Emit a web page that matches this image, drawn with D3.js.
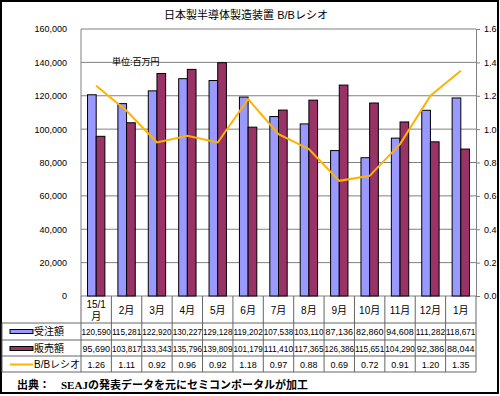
<!DOCTYPE html>
<html lang="ja">
<head>
<meta charset="utf-8">
<title>日本製半導体製造装置 B/Bレシオ</title>
<script src="https://d3js.org/d3.v7.min.js"></script>
<style>
  body { margin: 0; background: #fff; }
  text { font-family: "Liberation Sans", "Noto Sans CJK JP", sans-serif; fill: #000; }
</style>
</head>
<body>
<svg width="500" height="396"></svg>
<script>
var months = ["15/1月","2月","3月","4月","5月","6月","7月","8月","9月","10月","11月","12月","1月"];
var orders = [120590,115281,122920,130227,129128,119202,107538,103110,87136,82860,94608,111282,118671];
var sales = [95690,103817,133343,135796,139809,101179,111410,117365,126386,115651,104290,92386,88044];
var ratio = [1.26,1.11,0.92,0.96,0.92,1.18,0.97,0.88,0.69,0.72,0.91,1.20,1.35];
var leftTicks = [0,20000,40000,60000,80000,100000,120000,140000,160000];
var rightTicks = [0,0.2,0.4,0.6,0.8,1.0,1.2,1.4,1.6];
var seriesNames = ["受注額","販売額","B/Bレシオ"];
var colors = ["#9999ff","#993366","#ffb300"];

var svg = d3.select("svg");
var marge = {top:29, left:81, right:476, bottom:296};

// 外枠
svg.append("rect").attr("x",1).attr("y",1).attr("width",497).attr("height",392)
    .attr("fill","#fff").attr("stroke","#000").attr("stroke-width",2);

svg.append("text").attr("x",246).attr("y",19).attr("text-anchor","middle")
    .style("font-size","11px").text("日本製半導体製造装置 B/Bレシオ");

var x0 = d3.scaleBand().domain(d3.range(months.length)).range([marge.left, marge.right]);
var x1 = d3.scaleBand().domain([0,1]).range([0, x0.bandwidth()]).paddingOuter(0.75);
var yL = d3.scaleLinear().domain([0,160000]).range([marge.bottom, marge.top]);
var yR = d3.scaleLinear().domain([0,1.6]).range([marge.bottom, marge.top]);

// グリッド
svg.append("g").selectAll("line").data(leftTicks).enter().append("line")
    .attr("x1",marge.left).attr("x2",marge.right)
    .attr("y1",function(d){return yL(d);}).attr("y2",function(d){return yL(d);})
    .attr("stroke","#808080").attr("stroke-width",1);
svg.append("line").attr("x1",marge.left).attr("x2",marge.left)
    .attr("y1",marge.top).attr("y2",marge.bottom).attr("stroke","#808080");

// 左軸
var axL = svg.append("g").attr("transform","translate("+(marge.left-11)+",0)")
    .call(d3.axisLeft(yL).tickValues(leftTicks).tickSize(0).tickFormat(d3.format(",")));
axL.select(".domain").remove();
axL.selectAll("text").style("font-size","9px").style("font-family","Liberation Sans");

// 右軸
var axR = svg.append("g").attr("transform","translate("+marge.right+",0)")
    .call(d3.axisRight(yR).tickValues(rightTicks).tickSize(4).tickPadding(4).tickFormat(d3.format(".1f")));
axR.select(".domain").attr("stroke","#808080");
axR.selectAll(".tick line").attr("stroke","#808080");
axR.selectAll("text").style("font-size","9px").style("font-family","Liberation Sans");

svg.append("text").attr("x",112).attr("y",65).style("font-size","9px").text("単位:百万円");

// 棒
[orders, sales].forEach(function(vals, s){
    svg.append("g").selectAll("rect").data(vals).enter().append("rect")
        .attr("x",function(d,i){return x0(i)+x1(s);})
        .attr("y",function(d){return yL(d);})
        .attr("width",x1.bandwidth())
        .attr("height",function(d){return yL(0)-yL(d);})
        .attr("fill",colors[s]).attr("stroke","#000").attr("stroke-width",1);
});

// 折れ線
var line = d3.line()
    .x(function(d,i){return x0(i)+x0.bandwidth()/2;})
    .y(function(d){return yR(d);});
svg.append("path").datum(ratio).attr("d",line)
    .attr("fill","none").attr("stroke",colors[2]).attr("stroke-width",2);

// データテーブル
var rowY = [marge.bottom, 323, 340, 356, 372];
var tbl = svg.append("g").attr("stroke","#666").attr("stroke-width",1);
for (var r = 1; r < rowY.length; r++) {
    tbl.append("line").attr("x1",2).attr("x2",marge.right).attr("y1",rowY[r]).attr("y2",rowY[r]);
}
tbl.append("line").attr("x1",2).attr("x2",2).attr("y1",rowY[1]).attr("y2",rowY[4]);
d3.range(months.length+1).forEach(function(i){
    var xx = i < months.length ? x0(i) : marge.right;
    tbl.append("line").attr("x1",xx).attr("x2",xx).attr("y1",marge.bottom).attr("y2",rowY[4]);
});

months.forEach(function(m, i){
    var cx = x0(i)+x0.bandwidth()/2;
    if (m.indexOf("/") >= 0) {
        svg.append("text").attr("x",cx).attr("y",308).attr("text-anchor","middle").style("font-size","10px").text(m.slice(0,-1));
        svg.append("text").attr("x",cx).attr("y",320).attr("text-anchor","middle").style("font-size","10px").text("月");
    } else {
        svg.append("text").attr("x",cx).attr("y",314).attr("text-anchor","middle").style("font-size","10px").text(m);
    }
});

var rowsVals = [orders.map(d3.format(",")), sales.map(d3.format(",")), ratio.map(d3.format(".2f"))];
rowsVals.forEach(function(vals, r){
    var base = rowY[r+1] + 12;
    vals.forEach(function(v, i){
        var t = svg.append("text").attr("x",x0(i)+x0.bandwidth()/2).attr("y",base)
            .attr("text-anchor","middle").style("font-size","9px").text(v);
        var w = t.node().getComputedTextLength();
        if (w > x0.bandwidth()-1) t.attr("textLength",x0.bandwidth()-1).attr("lengthAdjust","spacingAndGlyphs");
    });
    // 凡例
    var sy = rowY[r+1] + 8.5;
    if (r < 2) {
        svg.append("rect").attr("x",10).attr("y",sy-2).attr("width",23).attr("height",4)
            .attr("fill",colors[r]).attr("stroke","#000").attr("stroke-width",1);
    } else {
        svg.append("line").attr("x1",10).attr("x2",33).attr("y1",sy).attr("y2",sy)
            .attr("stroke",colors[r]).attr("stroke-width",2);
    }
    svg.append("text").attr("x",34).attr("y",base).style("font-size","10px").text(seriesNames[r]);
});

svg.append("text").attr("x",17).attr("y",389)
    .style("font-family","'Liberation Serif', 'Noto Sans CJK JP', serif")
    .style("font-size","11px").style("font-weight","600")
    .text("出典：　SEAJの発表データを元にセミコンポータルが加工");
</script>
</body>
</html>
